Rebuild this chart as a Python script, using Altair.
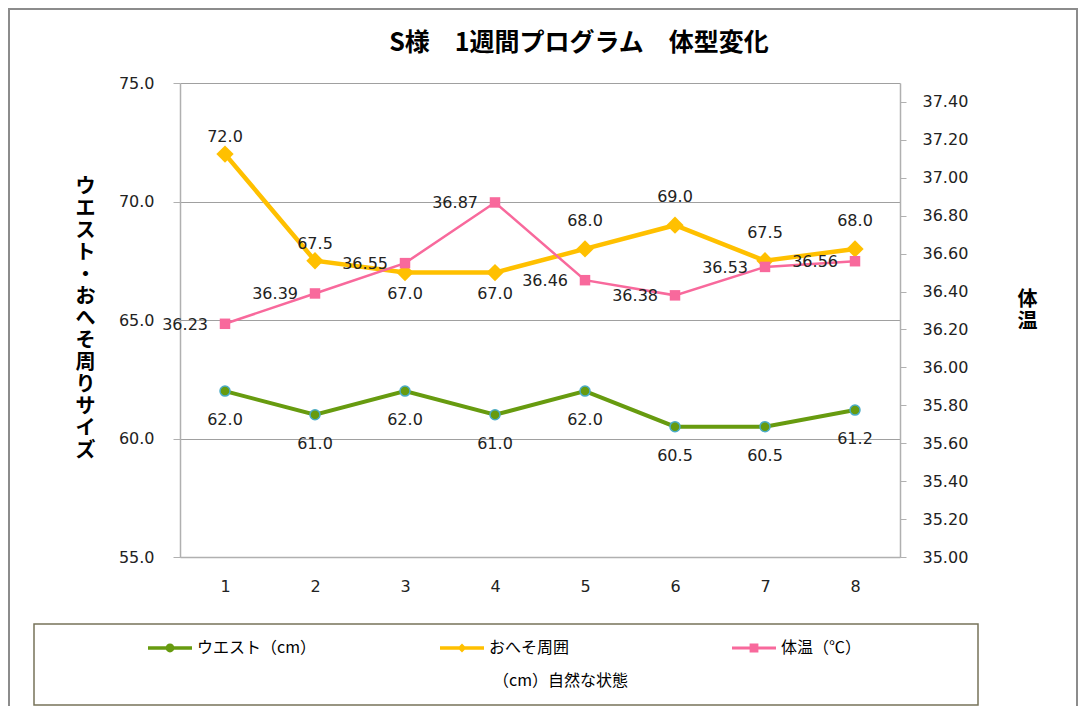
import altair as alt
import pandas as pd

# ---------------- data ----------------
days = ["1", "2", "3", "4", "5", "6", "7", "8"]
waist = [62.0, 61.0, 62.0, 61.0, 62.0, 60.5, 60.5, 61.2]
navel = [72.0, 67.5, 67.0, 67.0, 68.0, 69.0, 67.5, 68.0]
navel_label_side = ["near", "near", "below", "below", "above", "above", "above", "above"]
temp = [36.23, 36.39, 36.55, 36.87, 36.46, 36.38, 36.53, 36.56]

series = ["ウエスト（cm）", "おへそ周囲", "体温（℃）"]
colors = ["#679b0f", "#ffc000", "#f8699c"]
left_ticks = [55.0, 60.0, 65.0, 70.0, 75.0]
right_ticks = [35.0, 35.2, 35.4, 35.6, 35.8, 36.0, 36.2, 36.4, 36.6, 36.8, 37.0, 37.2, 37.4]

title_text = "S様　1週間プログラム　体型変化"
left_title = "ウエスト・おへそ周りサイズ"
right_title = "体温"
x_note = "（cm）自然な状態"

df_w = pd.DataFrame({"day": days, "value": waist})
df_n = pd.DataFrame({"day": days, "value": navel, "side": navel_label_side})
df_t = pd.DataFrame({"day": days, "value": temp})
df_leg = pd.DataFrame({"series": series})
df_title = pd.DataFrame({"title": [title_text]})

NUM_FONT = "DejaVu Sans"
JP_FONT = "Noto Sans CJK JP"
AXIS_GRAY = "#b0b0b0"
LABEL_COLOR = "#222222"

W, H = 720, 474

X = alt.X(
    "day:O",
    sort=days,
    scale=alt.Scale(type="point", padding=0.5),
    axis=alt.Axis(
        title=x_note, labelAngle=0, ticks=False, domainColor=AXIS_GRAY, domainWidth=1.5,
        labelFont=NUM_FONT, labelFontSize=16, labelColor=LABEL_COLOR, labelPadding=21,
        titleX=380, titleY=123, titleAlign="center", titleBaseline="middle",
        titleFont=JP_FONT, titleFontSize=16, titleFontWeight="normal", titleColor="#000000",
    ),
)

YL = alt.Y(
    "value:Q",
    scale=alt.Scale(domain=[55, 75], nice=False, zero=False),
    axis=alt.Axis(
        values=left_ticks, format=".1f", grid=True, gridColor="#a0a0a0", gridWidth=1,
        domainColor=AXIS_GRAY, domainWidth=1.5, tickColor=AXIS_GRAY, tickSize=7,
        labelFont=NUM_FONT, labelFontSize=16, labelColor=LABEL_COLOR, labelPadding=19,
        title=list(left_title), titleAngle=0, titleX=-95, titleY=93,
        titleAlign="center", titleBaseline="top", titleLineHeight=22,
        titleFont=JP_FONT, titleFontSize=20, titleFontWeight="bold", titleColor="#000000",
    ),
)

YR = alt.Y(
    "value:Q",
    scale=alt.Scale(domain=[35, 37.5], nice=False, zero=False),
    axis=alt.Axis(
        orient="right", values=right_ticks, format=".2f", grid=False,
        domainColor=AXIS_GRAY, domainWidth=1.5, tickColor=AXIS_GRAY, tickSize=6,
        labelFont=NUM_FONT, labelFontSize=16, labelColor=LABEL_COLOR, labelPadding=16,
        title=list(right_title), titleAngle=0, titleX=127, titleY=206,
        titleAlign="center", titleBaseline="top", titleLineHeight=22,
        titleFont=JP_FONT, titleFontSize=20, titleFontWeight="bold", titleColor="#000000",
    ),
)

txt = dict(font=NUM_FONT, fontSize=16, color=LABEL_COLOR, baseline="middle")

# waist
w_line = alt.Chart(df_w).mark_line(color=colors[0], strokeWidth=4).encode(x=X, y=YL)
w_pts = alt.Chart(df_w).mark_point(
    shape="circle", filled=True, fill=colors[0], stroke="#4bacc6", strokeWidth=1.5,
    size=100, opacity=1,
).encode(x=X, y=YL)
w_txt = alt.Chart(df_w).mark_text(dy=29, **txt).encode(
    x=X, y=YL, text=alt.Text("value:Q", format=".1f"))

# navel
n_line = alt.Chart(df_n).mark_line(color=colors[1], strokeWidth=4.5).encode(x=X, y=YL)
n_pts = alt.Chart(df_n).mark_point(
    shape="diamond", filled=True, color=colors[1], size=300, opacity=1,
).encode(x=X, y=YL)
n_txt_above = alt.Chart(df_n).transform_filter(alt.datum.side == "above").mark_text(
    dy=-28, **txt).encode(x=X, y=YL, text=alt.Text("value:Q", format=".1f"))
n_txt_near = alt.Chart(df_n).transform_filter(alt.datum.side == "near").mark_text(
    dy=-17, **txt).encode(x=X, y=YL, text=alt.Text("value:Q", format=".1f"))
n_txt_below = alt.Chart(df_n).transform_filter(alt.datum.side == "below").mark_text(
    dy=21, **txt).encode(x=X, y=YL, text=alt.Text("value:Q", format=".1f"))

# legend (invisible marks, visible legend)
line_part = "M-1,-0.08H1V0.08H-1Z"
shapes = [
    line_part + "M0.2,0A0.2,0.2,0,1,1,-0.2,0A0.2,0.2,0,1,1,0.2,0Z",
    line_part + "M0,-0.2L0.2,0L0,0.2L-0.2,0Z",
    "M-1,-0.065H1V0.065H-1Z" + "M-0.2,-0.2H0.2V0.2H-0.2Z",
]
legend_cfg = dict(
    title=None, orient="none", legendX=-32, legendY=543,
    direction="horizontal", columns=3, gridAlign="all",
    columnPadding=124, symbolOpacity=1, symbolStrokeWidth=0,
    symbolSize=1936, labelFont=JP_FONT, labelFontSize=16,
    labelColor="#000000", labelOffset=5, padding=0,
)
leg = alt.Chart(df_leg).mark_point(filled=True, opacity=0, size=1936).encode(
    x=alt.value(0), y=alt.value(0),
    color=alt.Color("series:N", scale=alt.Scale(domain=series, range=colors),
                    legend=alt.Legend(**legend_cfg)),
    shape=alt.Shape("series:N", scale=alt.Scale(domain=series, range=shapes),
                    legend=alt.Legend(**legend_cfg)),
)

# frames and chart title (decoration)
legend_box = alt.Chart(df_leg).transform_filter(alt.datum.series == series[0]).mark_rect(
    fill="white", fillOpacity=0, stroke="#77735a", strokeWidth=1.5
).encode(x=alt.value(-146), x2=alt.value(798), y=alt.value(541), y2=alt.value(622))
outer_box = alt.Chart(df_leg).transform_filter(alt.datum.series == series[0]).mark_rect(
    fill="white", fillOpacity=0, stroke="#8c8c8c", strokeWidth=2
).encode(x=alt.value(-171), x2=alt.value(897), y=alt.value(-74), y2=alt.value(622 + 73))
title_mark = alt.Chart(df_title).mark_text(
    font=JP_FONT, fontSize=25, fontWeight="bold", color="#000000",
    align="center", baseline="alphabetic",
).encode(x=alt.value(399), y=alt.value(-32), text="title:N")

left = alt.layer(w_line, n_line, w_pts, n_pts, w_txt, n_txt_above, n_txt_near, n_txt_below,
                 leg, legend_box, outer_box, title_mark)

# temperature
t_line = alt.Chart(df_t).mark_line(color=colors[2], strokeWidth=2.5).encode(x=X, y=YR)
t_pts = alt.Chart(df_t).mark_point(
    shape="square", filled=True, color=colors[2], size=110, opacity=1,
).encode(x=X, y=YR)
t_txt = alt.Chart(df_t).mark_text(align="right", dx=-17, dy=1, **txt).encode(
    x=X, y=YR, text=alt.Text("value:Q", format=".2f"))
right = alt.layer(t_line, t_pts, t_txt)

chart = alt.layer(left, right).resolve_scale(y="independent").properties(
    width=W, height=H,
    autosize=alt.AutoSizeParams(type="none"),
    padding={"left": 172, "top": 75, "right": 178, "bottom": 149},
    background="white",
).configure_view(stroke=None)

chart.save("out.html", embed_options={"renderer": "svg", "actions": False})
